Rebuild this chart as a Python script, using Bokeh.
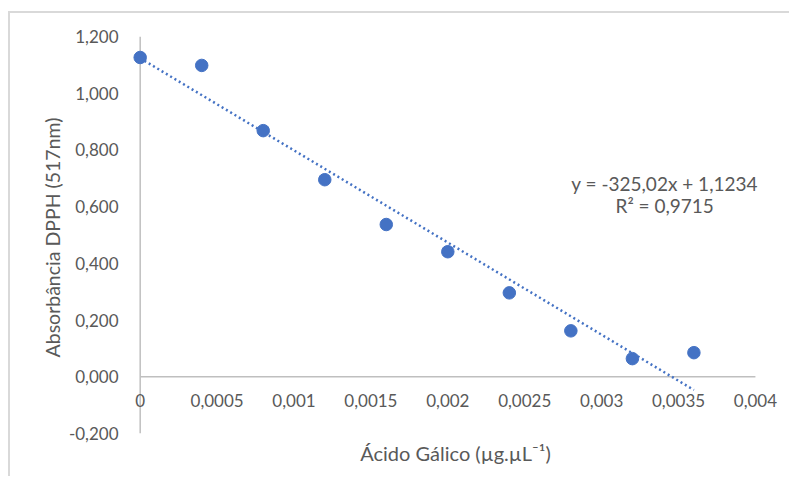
from bokeh.plotting import figure
from bokeh.models import Range1d, FixedTicker, CustomJSTickFormatter, Label, ColumnDataSource
from bokeh.core.properties import value
from bokeh.embed import file_html
from bokeh.resources import INLINE

# ---- data ----
acido_galico = [0.0, 0.0004, 0.0008, 0.0012, 0.0016, 0.0020, 0.0024, 0.0028, 0.0032, 0.0036]
absorbancia = [1.126, 1.098, 0.868, 0.695, 0.537, 0.441, 0.296, 0.162, 0.064, 0.085]

x_ticks = [0.0, 0.0005, 0.001, 0.0015, 0.002, 0.0025, 0.003, 0.0035, 0.004]
x_tick_labels = ["0", "0,0005", "0,001", "0,0015", "0,002", "0,0025", "0,003", "0,0035", "0,004"]
y_ticks = [-0.2, 0.0, 0.2, 0.4, 0.6, 0.8, 1.0, 1.2]

slope = -325.02
intercept = 1.1234
equation_text = "y = -325,02x + 1,1234"
r2_text = "R² = 0,9715"

x_title = "Ácido Gálico (µg.µL⁻¹)"
y_title = "Absorbância DPPH  (517nm)"

FONT = "Lato"
TXT = "#595959"
BLUE = "#4472C4"
AXIS = "#bfbfbf"

p = figure(width=789, height=476, output_backend="svg", toolbar_location=None,
           x_range=Range1d(-0.00005, 0.00415), y_range=Range1d(y_ticks[0], y_ticks[-1]),
           min_border_left=132, min_border_right=11, min_border_top=36, min_border_bottom=43)
p.grid.visible = False
p.outline_line_color = None
p.background_fill_color = "white"
p.border_fill_color = None
p.styles = {"background": "linear-gradient(#d9d9d9,#d9d9d9) 8px 11px / 2px 100% no-repeat, "
                          "linear-gradient(#d9d9d9,#d9d9d9) 8px 11px / 100% 2px no-repeat, #ffffff"}

# y axis (labels + title)
ya = p.yaxis[0]
ya.ticker = FixedTicker(ticks=y_ticks)
ya.formatter = CustomJSTickFormatter(code="return tick.toFixed(3).replace('.', ',');")
ya.axis_line_color = None
ya.major_tick_line_color = None
ya.minor_tick_line_color = None
ya.major_tick_out = 0
ya.major_tick_in = 0
ya.major_label_standoff = 14
ya.major_label_text_font = FONT
ya.major_label_text_font_size = "17px"
ya.major_label_text_color = TXT
ya.axis_label = y_title
ya.axis_label_text_font = FONT
ya.axis_label_text_font_size = "19.5px"
ya.axis_label_text_font_style = "normal"
ya.axis_label_text_color = TXT
ya.axis_label_standoff = 2

# x axis used only for its title
xa = p.xaxis[0]
xa.ticker = FixedTicker(ticks=[])
xa.axis_line_color = None
xa.major_tick_line_color = None
xa.minor_tick_line_color = None
xa.major_tick_out = 0
xa.major_tick_in = 0
xa.major_label_standoff = 0
xa.axis_label = x_title
xa.axis_label_text_font = FONT
xa.axis_label_text_font_size = "20px"
xa.axis_label_text_font_style = "normal"
xa.axis_label_text_color = TXT
xa.axis_label_standoff = 7

# axis lines
p.segment(x0=[x_ticks[0]], y0=[y_ticks[0]], x1=[x_ticks[0]], y1=[y_ticks[-1]], line_color=AXIS, line_width=1.5)
p.segment(x0=[x_ticks[0]], y0=[0.0], x1=[x_ticks[-1]], y1=[0.0], line_color=AXIS, line_width=1.5)

# x tick labels below y=0 line
p.text(x=x_ticks, y=[0.0] * len(x_ticks), text=x_tick_labels, y_offset=24,
       text_align="center", text_baseline="middle", text_font=value(FONT),
       text_font_size="17px", text_color=TXT)

# trendline
fit_x = [acido_galico[0], acido_galico[-1]]
fit_y = [slope * v + intercept for v in fit_x]
p.line(fit_x, fit_y, line_color=BLUE, line_width=2.5, line_dash="2 3")

# points
src = ColumnDataSource(dict(x=acido_galico, y=absorbancia))
p.scatter("x", "y", source=src, size=12.5, fill_color=BLUE, line_color=BLUE)

# equation labels
p.add_layout(Label(x=0.00341, y=0.68, text=equation_text, text_align="center", text_baseline="middle",
                   text_font=FONT, text_font_size="19px", text_color=TXT))
p.add_layout(Label(x=0.00341, y=0.603, text=r2_text, text_align="center", text_baseline="middle",
                   text_font=FONT, text_font_size="19px", text_color=TXT))

open("out.html", "w").write(file_html(p, INLINE))
